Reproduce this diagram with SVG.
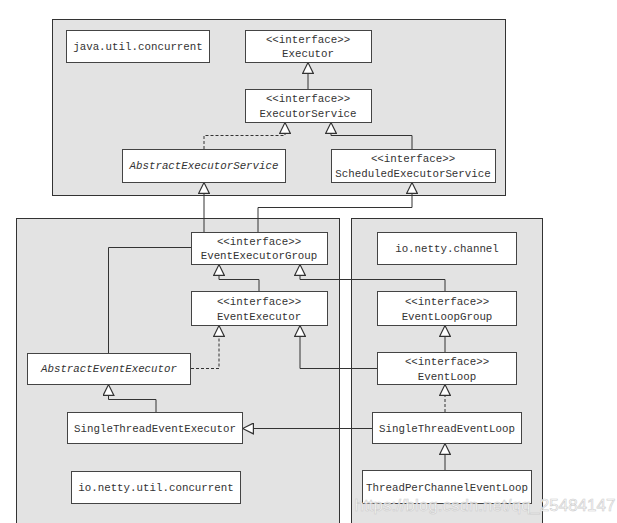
<svg xmlns="http://www.w3.org/2000/svg" width="617" height="523" viewBox="0 0 617 523">
<style>
.pkg{fill:#e3e3e3;stroke:#333;stroke-width:1}
.box{fill:#fff;stroke:#444;stroke-width:1}
text{font-family:"Liberation Mono","Courier New",monospace;font-size:10.8px;fill:#333;text-anchor:middle}
.it{font-style:italic}
.ln{fill:none;stroke:#333;stroke-width:1}
.dash{stroke-dasharray:3,2}
</style>
<defs>
<marker id="tri" markerUnits="userSpaceOnUse" markerWidth="12" markerHeight="12" viewBox="0 0 10 10" refX="10" refY="5" orient="auto">
<path d="M0.5,0.5 L9.5,5 L0.5,9.5 z" fill="#fff" stroke="#333" stroke-width="1"/>
</marker>
</defs>
<rect width="617" height="523" fill="#fff"/>
<g id="pkg-java"><rect class="pkg" x="52.5" y="19.5" width="453" height="176"/></g>
<g id="pkg-util"><rect class="pkg" x="16.5" y="218.5" width="323" height="310"/></g>
<g id="pkg-channel"><rect class="pkg" x="351.5" y="218.5" width="191" height="310"/></g>

<g id="connectors">
<path class="ln" d="M308,89 V62" marker-end="url(#tri)"/>
<path class="ln dash" d="M204,149 V135.5 H285 V122" marker-end="url(#tri)"/>
<path class="ln" d="M412,149 V135.5 H331 V122" marker-end="url(#tri)"/>
<path class="ln" d="M204,232 V182" marker-end="url(#tri)"/>
<path class="ln" d="M258,232 V207.5 H412 V182" marker-end="url(#tri)"/>
<path class="ln" d="M259,291 V279.5 H219 V264" marker-end="url(#tri)"/>
<path class="ln" d="M445,291 V279.5 H300 V264" marker-end="url(#tri)"/>
<path class="ln" d="M191,247.5 H108.5 V353"/>
<path class="ln dash" d="M191,368.5 H219 V325" marker-end="url(#tri)"/>
<path class="ln" d="M377,368.5 H300 V325" marker-end="url(#tri)"/>
<path class="ln" d="M445,352 V325" marker-end="url(#tri)"/>
<path class="ln dash" d="M445,412 V384" marker-end="url(#tri)"/>
<path class="ln" d="M445,470 V443" marker-end="url(#tri)"/>
<path class="ln" d="M156,412 V399.5 H108.5 V384" marker-end="url(#tri)"/>
<path class="ln" d="M372,428.5 H242" marker-end="url(#tri)"/>
</g>

<g id="java-util-concurrent"><rect class="box" x="66.5" y="30.5" width="143" height="32"/><text x="138" y="50">java.util.concurrent</text></g>
<g id="Executor"><rect class="box" x="245.5" y="30.5" width="126" height="32"/><text x="308" y="43">&lt;&lt;interface&gt;&gt;</text><text x="308" y="57">Executor</text></g>
<g id="ExecutorService"><rect class="box" x="245.5" y="89.5" width="126" height="33"/><text x="308" y="102">&lt;&lt;interface&gt;&gt;</text><text x="308" y="117">ExecutorService</text></g>
<g id="AbstractExecutorService"><rect class="box" x="122.5" y="149.5" width="163" height="33"/><text class="it" x="204" y="169">AbstractExecutorService</text></g>
<g id="ScheduledExecutorService"><rect class="box" x="331.5" y="149.5" width="164" height="33"/><text x="413" y="162">&lt;&lt;interface&gt;&gt;</text><text x="413" y="177">ScheduledExecutorService</text></g>

<g id="EventExecutorGroup"><rect class="box" x="191.5" y="232.5" width="136" height="32"/><text x="259" y="245">&lt;&lt;interface&gt;&gt;</text><text x="259" y="259">EventExecutorGroup</text></g>
<g id="EventExecutor"><rect class="box" x="191.5" y="291.5" width="136" height="34"/><text x="259" y="305">&lt;&lt;interface&gt;&gt;</text><text x="259" y="320">EventExecutor</text></g>
<g id="AbstractEventExecutor"><rect class="box" x="27.5" y="353.5" width="163" height="31"/><text class="it" x="109" y="372">AbstractEventExecutor</text></g>
<g id="SingleThreadEventExecutor"><rect class="box" x="67.5" y="412.5" width="175" height="31"/><text x="155" y="432">SingleThreadEventExecutor</text></g>
<g id="io-netty-util-concurrent"><rect class="box" x="71.5" y="471.5" width="169" height="32"/><text x="156" y="491">io.netty.util.concurrent</text></g>

<g id="io-netty-channel"><rect class="box" x="377.5" y="232.5" width="139" height="32"/><text x="447" y="252">io.netty.channel</text></g>
<g id="EventLoopGroup"><rect class="box" x="377.5" y="291.5" width="139" height="34"/><text x="447" y="305">&lt;&lt;interface&gt;&gt;</text><text x="447" y="320">EventLoopGroup</text></g>
<g id="EventLoop"><rect class="box" x="377.5" y="352.5" width="139" height="32"/><text x="447" y="365">&lt;&lt;interface&gt;&gt;</text><text x="447" y="380">EventLoop</text></g>
<g id="SingleThreadEventLoop"><rect class="box" x="372.5" y="412.5" width="149" height="31"/><text x="447" y="432">SingleThreadEventLoop</text></g>
<g id="ThreadPerChannelEventLoop"><rect class="box" x="362.5" y="470.5" width="169" height="33"/><text x="447" y="491">ThreadPerChannelEventLoop</text></g>

<text x="485" y="511" style="font-family:'Liberation Sans',Arial,sans-serif;font-size:17px;fill:#ffffff;stroke:#c8c8c8;stroke-width:0.6;opacity:0.9">https://blog.csdn.net/qq_25484147</text>
</svg>
